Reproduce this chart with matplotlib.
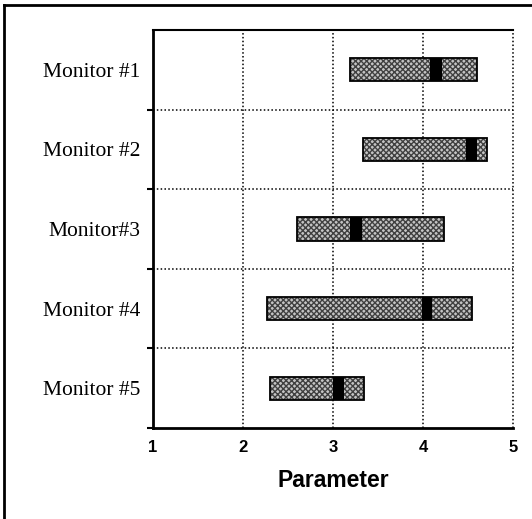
import matplotlib.pyplot as plt
from matplotlib.lines import Line2D

# values
monitors = ['Monitor #1', 'Monitor #2', 'Monitor#3', 'Monitor #4', 'Monitor #5']
range_lo = [3.19, 3.33, 2.60, 2.27, 2.30]
range_hi = [4.60, 4.71, 4.23, 4.54, 3.34]
mark_lo = [4.08, 4.48, 3.19, 3.99, 3.00]
mark_hi = [4.21, 4.60, 3.32, 4.10, 3.12]
xticks = [1, 2, 3, 4, 5]

fig = plt.figure(figsize=(5.32, 5.19), dpi=100)
ax = fig.add_axes([153 / 532, 1 - 428 / 519, 360 / 532, 398 / 519])

ypos = list(range(len(monitors)))
bar_h = 0.29

# hatched gray range bars
widths = [h - l for l, h in zip(range_lo, range_hi)]
ax.barh(ypos, widths, left=range_lo, height=bar_h, color='#c4c4c4',
        hatch='xxxxxx', edgecolor='#404040', linewidth=0, zorder=3)
ax.barh(ypos, widths, left=range_lo, height=bar_h, fill=False,
        edgecolor='black', linewidth=1.3, zorder=5)
# black marker segment
mwidths = [h - l for l, h in zip(mark_lo, mark_hi)]
ax.barh(ypos, mwidths, left=mark_lo, height=bar_h, color='black',
        linewidth=0, zorder=4)

ax.set_xlim(1, 5)
ax.set_ylim(len(monitors) - 0.5, -0.5)

# grid
for xv in xticks[1:]:
    ax.axvline(xv, color='black', linestyle=(0, (1, 1.5)), linewidth=1.1,
               zorder=1, clip_on=False)
for k in range(len(monitors) - 1):
    ax.axhline(k + 0.5, color='black', linestyle=(0, (1, 1.5)), linewidth=1.1, zorder=1)

ax.spines['right'].set_visible(False)
ax.spines['left'].set_linewidth(2.0)
ax.spines['bottom'].set_linewidth(2.0)
ax.spines['top'].set_linewidth(1.5)

ax.set_yticks(ypos)
ax.set_yticklabels(monitors, family='Liberation Serif', fontsize=15.5)
ax.tick_params(axis='y', which='major', length=0, pad=9)
ax.set_yticks([k + 0.5 for k in range(len(monitors))], minor=True)
ax.tick_params(axis='y', which='minor', length=4, width=1.5, direction='out')

ax.set_xticks(xticks)
ax.set_xticklabels([str(v) for v in xticks], family='Liberation Sans',
                   fontweight='bold', fontsize=12)
ax.tick_params(axis='x', length=0, pad=9)
ax.set_xlabel('Parameter', family='Liberation Sans', fontweight='bold',
              fontsize=16.5, labelpad=10)

# outer frame (left and top edges only)
fig.add_artist(Line2D([4 / 532, 4 / 532], [0, 1 - 5 / 519], transform=fig.transFigure,
                      color='black', linewidth=2))
fig.add_artist(Line2D([4 / 532, 1], [1 - 5 / 519, 1 - 5 / 519], transform=fig.transFigure,
                      color='black', linewidth=2))

fig.savefig('out.png', dpi=100)
